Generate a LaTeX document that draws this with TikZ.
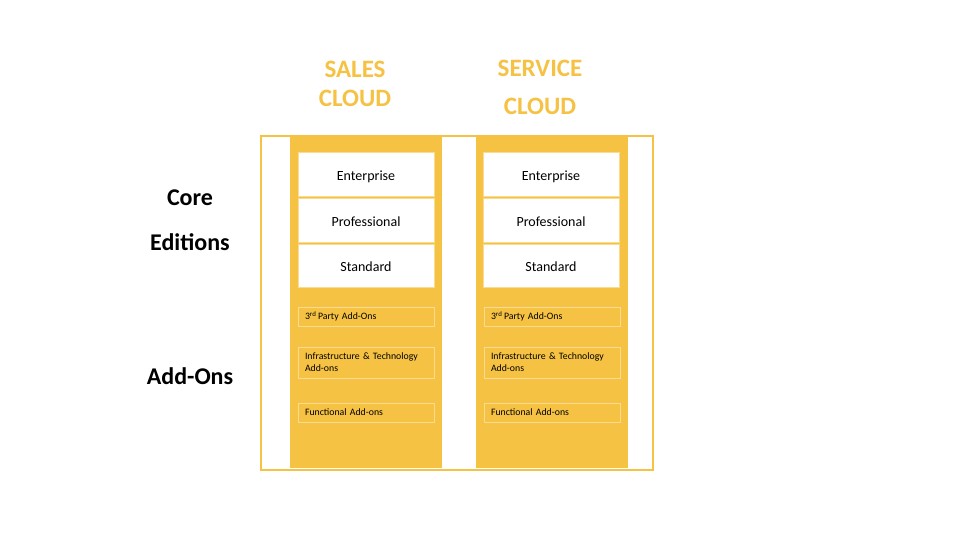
\documentclass[tikz,border=0pt]{standalone}
\usepackage{fontspec}
\setmainfont{Carlito}
\definecolor{sfy}{HTML}{F6C244}
\definecolor{edge}{HTML}{F9DC92}
\begin{document}
\begin{tikzpicture}[x=1pt,y=-1pt,
  frame/.style={draw=sfy,line width=2pt,fill=white,minimum width=392pt,minimum height=334pt,inner sep=0pt},
  column/.style={fill=sfy,minimum width=152pt,minimum height=332pt,inner sep=0pt},
  edition/.style={fill=white,draw=edge,line width=0.6pt,minimum width=136pt,inner sep=0pt,text height=12pt,text depth=0pt,font=\fontsize{14}{16}\selectfont},
  addon/.style={draw=edge,line width=0.6pt,minimum width=136pt,text width=122pt,inner xsep=7pt,inner ysep=0pt,align=left,font=\fontsize{9.8}{12}\selectfont},
  title/.style={text=sfy,font=\bfseries\fontsize{25}{29}\selectfont,inner sep=0pt},
  rowlabel/.style={text=black,font=\bfseries\fontsize{24}{28}\selectfont,inner sep=0pt}]
\useasboundingbox (0,0) rectangle (960,540);
\fill[white] (0,0) rectangle (960,540);
\node[frame] (frm) at (457,303) {};
\node[column] (colA) at (366,302) {};
\node[column] (colB) at (552,302) {};
% editions
\node[edition,minimum height=44pt] (entA) at (366,174) {Enterprise};
\node[edition,minimum height=44pt] (proA) at (366,220) {Professional};
\node[edition,minimum height=43pt] (stdA) at (366,265.5) {Standard};
\node[edition,minimum height=44pt] (entB) at (551,174) {Enterprise};
\node[edition,minimum height=44pt] (proB) at (551,220) {Professional};
\node[edition,minimum height=43pt] (stdB) at (551,265.5) {Standard};
% add-ons
\node[addon,minimum height=19pt] (tpA) at (366,316.5) {3\textsuperscript{rd}\,Party Add-Ons};
\node[addon,minimum height=31pt] (inA) at (366,362.5) {Infrastructure \& Technology\\Add-ons};
\node[addon,minimum height=19pt] (fnA) at (366,412.5) {Functional Add-ons};
\node[addon,minimum height=19pt] (tpB) at (552,316.5) {3\textsuperscript{rd}\,Party Add-Ons};
\node[addon,minimum height=31pt] (inB) at (552,362.5) {Infrastructure \& Technology\\Add-ons};
\node[addon,minimum height=19pt] (fnB) at (552,412.5) {Functional Add-ons};
% titles
\node[title] (t1) at (355,69) {SALES};
\node[title] (t2) at (355,98) {CLOUD};
\node[title] (t3) at (540,68) {SERVICE};
\node[title] (t4) at (540,106) {CLOUD};
% row labels
\node[rowlabel] (r1) at (190,198) {Core};
\node[rowlabel] (r2) at (190,242) {Editions};
\node[rowlabel] (r3) at (190,376) {Add-Ons};
\end{tikzpicture}
\end{document}
